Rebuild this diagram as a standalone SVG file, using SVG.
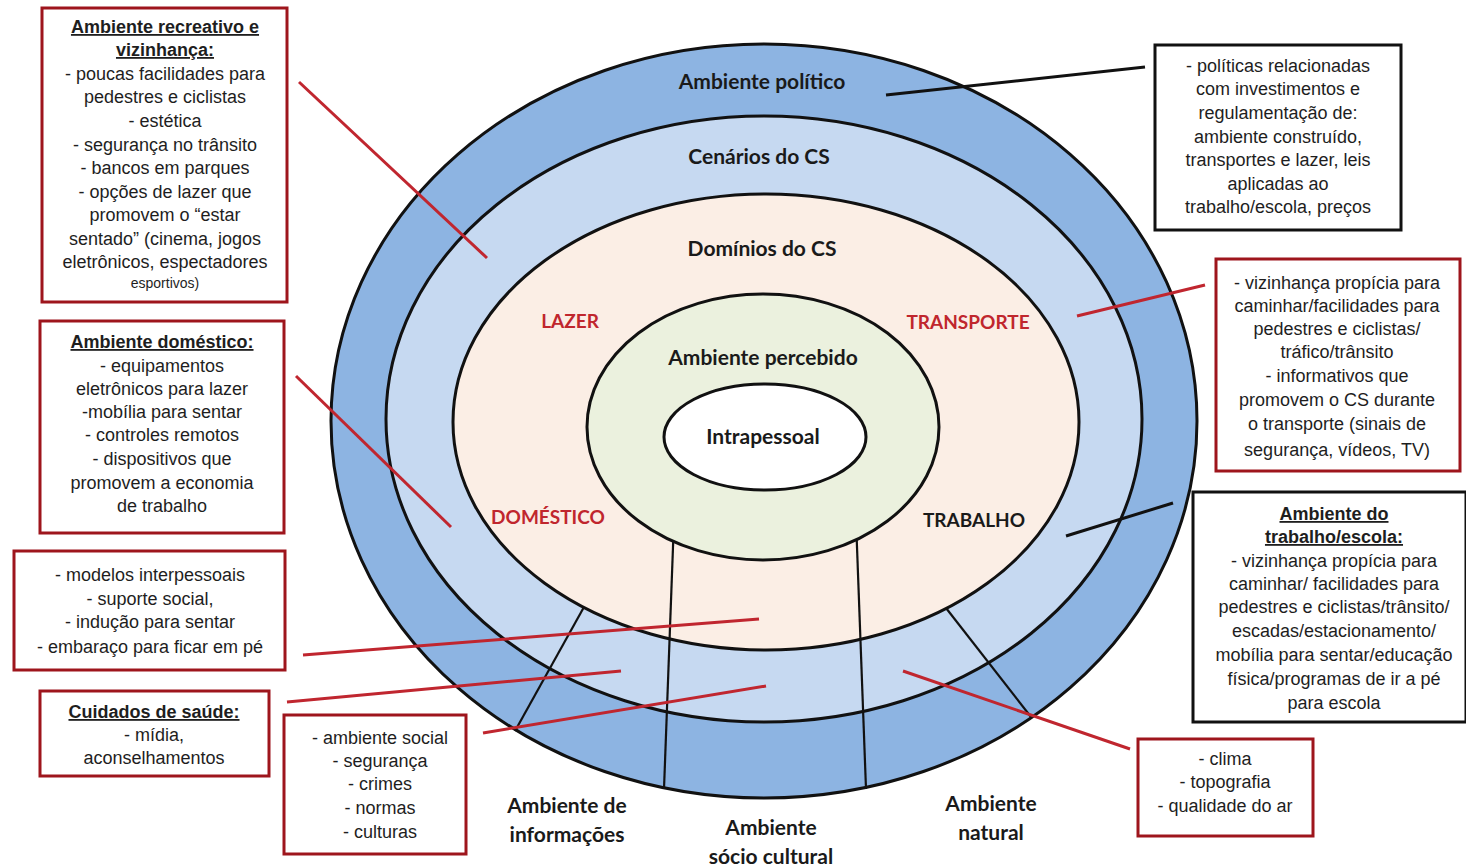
<svg xmlns="http://www.w3.org/2000/svg" width="1466" height="867" viewBox="0 0 1466 867">
<style>
.bg{fill:#ffffff}
.ring{stroke:#111;stroke-width:3}
.div{stroke:#111;stroke-width:2.2;fill:none}
.lab{font-family:Lato,"Open Sans","Liberation Sans",sans-serif;font-weight:bold;font-size:21px;fill:#1a1a1a;text-anchor:middle}
.cap{font-size:19px}
.red{fill:#C0262D}
.rbox{fill:#fff;stroke:#9E151C;stroke-width:3}
.kbox{fill:#fff;stroke:#111;stroke-width:3}
.t{font-family:"Liberation Sans",Arial,sans-serif;font-size:18px;fill:#1e1e1e;text-anchor:middle}
.h{font-weight:bold;text-decoration:underline}
.sm{font-size:14px}
.cr{stroke:#C0262F;stroke-width:3;fill:none}
.ck{stroke:#111;stroke-width:3;fill:none}
</style>
<rect class="bg" x="0" y="0" width="1466" height="867"/>

<g id="rings">
<ellipse class="ring" cx="764" cy="421" rx="433" ry="377" fill="#8DB4E2"/>
<ellipse class="ring" cx="764" cy="419" rx="378" ry="303" fill="#C6D9F1"/>
<ellipse class="ring" cx="766" cy="422" rx="313" ry="228" fill="#FBEEE5"/>
<line class="div" x1="674" y1="520" x2="664" y2="789"/>
<line class="div" x1="856" y1="520" x2="866" y2="789"/>
<line class="div" x1="584" y1="607" x2="515" y2="731"/>
<line class="div" x1="946" y1="608" x2="1031" y2="717"/>
<ellipse class="ring" cx="763" cy="427" rx="176" ry="133" fill="#EBF1DE"/>
<ellipse class="ring" cx="765" cy="437" rx="101" ry="53" fill="#ffffff"/>
</g>

<g id="ring-labels">
<text class="lab" x="762" y="89">Ambiente político</text>
<text class="lab" x="759" y="164">Cenários do CS</text>
<text class="lab" x="762" y="256">Domínios do CS</text>
<text class="lab cap red" x="570" y="328">LAZER</text>
<text class="lab cap red" x="968" y="329">TRANSPORTE</text>
<text class="lab" x="763" y="365">Ambiente percebido</text>
<text class="lab" x="763" y="444">Intrapessoal</text>
<text class="lab cap red" x="548" y="524">DOMÉSTICO</text>
<text class="lab cap" x="974" y="527">TRABALHO</text>
<text class="lab" x="567" y="813">Ambiente de</text>
<text class="lab" x="567" y="842">informações</text>
<text class="lab" x="771" y="835">Ambiente</text>
<text class="lab" x="771" y="864">sócio cultural</text>
<text class="lab" x="991" y="811">Ambiente</text>
<text class="lab" x="991" y="840">natural</text>
</g>

<g id="connectors">
<line class="cr" x1="299" y1="82" x2="487" y2="258"/>
<line class="cr" x1="296" y1="376" x2="451" y2="527"/>
<line class="cr" x1="303" y1="655" x2="759" y2="619"/>
<line class="cr" x1="287" y1="702" x2="621" y2="671"/>
<line class="cr" x1="483" y1="733" x2="766" y2="686"/>
<line class="cr" x1="903" y1="671" x2="1130" y2="749"/>
<line class="cr" x1="1077" y1="316" x2="1205" y2="285"/>
<line class="ck" x1="886" y1="95" x2="1145" y2="67"/>
<line class="ck" x1="1066" y1="536" x2="1173" y2="503"/>
</g>

<g id="box-recreativo">
<rect class="rbox" x="42" y="8" width="245" height="294"/>
<text class="t h" x="165" y="33">Ambiente recreativo e</text>
<text class="t h" x="165" y="56">vizinhança:</text>
<text class="t" x="165" y="80">- poucas facilidades para</text>
<text class="t" x="165" y="103">pedestres e ciclistas</text>
<text class="t" x="165" y="127">- estética</text>
<text class="t" x="165" y="151">- segurança no trânsito</text>
<text class="t" x="165" y="174">- bancos em parques</text>
<text class="t" x="165" y="198">- opções de lazer que</text>
<text class="t" x="165" y="221">promovem o “estar</text>
<text class="t" x="165" y="245">sentado” (cinema, jogos</text>
<text class="t" x="165" y="268">eletrônicos, espectadores</text>
<text class="t sm" x="165" y="288">esportivos)</text>
</g>

<g id="box-domestico">
<rect class="rbox" x="40" y="321" width="244" height="212"/>
<text class="t h" x="162" y="348">Ambiente doméstico:</text>
<text class="t" x="162" y="372">- equipamentos</text>
<text class="t" x="162" y="395">eletrônicos para lazer</text>
<text class="t" x="162" y="418">-mobília para sentar</text>
<text class="t" x="162" y="441">- controles remotos</text>
<text class="t" x="162" y="465">- dispositivos que</text>
<text class="t" x="162" y="489">promovem a economia</text>
<text class="t" x="162" y="512">de trabalho</text>
</g>

<g id="box-interpessoal">
<rect class="rbox" x="14" y="551" width="271" height="119"/>
<text class="t" x="150" y="581">- modelos interpessoais</text>
<text class="t" x="150" y="605">- suporte social,</text>
<text class="t" x="150" y="628">- indução para sentar</text>
<text class="t" x="150" y="653">- embaraço para ficar em pé</text>
</g>

<g id="box-saude">
<rect class="rbox" x="40" y="691" width="229" height="85"/>
<text class="t h" x="154" y="718">Cuidados de saúde:</text>
<text class="t" x="154" y="741">- mídia,</text>
<text class="t" x="154" y="764">aconselhamentos</text>
</g>

<g id="box-social">
<rect class="rbox" x="284" y="715" width="182" height="139"/>
<text class="t" x="380" y="744">- ambiente social</text>
<text class="t" x="380" y="767">- segurança</text>
<text class="t" x="380" y="790">- crimes</text>
<text class="t" x="380" y="814">- normas</text>
<text class="t" x="380" y="838">- culturas</text>
</g>

<g id="box-politico">
<rect class="kbox" x="1155" y="45" width="246" height="185"/>
<text class="t" x="1278" y="72">- políticas relacionadas</text>
<text class="t" x="1278" y="95">com investimentos e</text>
<text class="t" x="1278" y="119">regulamentação de:</text>
<text class="t" x="1278" y="143">ambiente construído,</text>
<text class="t" x="1278" y="166">transportes e lazer, leis</text>
<text class="t" x="1278" y="190">aplicadas ao</text>
<text class="t" x="1278" y="213">trabalho/escola, preços</text>
</g>

<g id="box-transporte">
<rect class="rbox" x="1216" y="259" width="244" height="212"/>
<text class="t" x="1337" y="289">- vizinhança propícia para</text>
<text class="t" x="1337" y="312">caminhar/facilidades para</text>
<text class="t" x="1337" y="335">pedestres e ciclistas/</text>
<text class="t" x="1337" y="358">tráfico/trânsito</text>
<text class="t" x="1337" y="382">- informativos que</text>
<text class="t" x="1337" y="406">promovem o CS durante</text>
<text class="t" x="1337" y="430">o transporte (sinais de</text>
<text class="t" x="1337" y="456">segurança, vídeos, TV)</text>
</g>

<g id="box-trabalho">
<rect class="kbox" x="1193" y="492" width="273" height="230"/>
<text class="t h" x="1334" y="520">Ambiente do</text>
<text class="t h" x="1334" y="543">trabalho/escola:</text>
<text class="t" x="1334" y="567">- vizinhança propícia para</text>
<text class="t" x="1334" y="590">caminhar/ facilidades para</text>
<text class="t" x="1334" y="613">pedestres e ciclistas/trânsito/</text>
<text class="t" x="1334" y="637">escadas/estacionamento/</text>
<text class="t" x="1334" y="661">mobília para sentar/educação</text>
<text class="t" x="1334" y="685">física/programas de ir a pé</text>
<text class="t" x="1334" y="709">para escola</text>
</g>

<g id="box-natural">
<rect class="rbox" x="1138" y="739" width="175" height="97"/>
<text class="t" x="1225" y="765">- clima</text>
<text class="t" x="1225" y="788">- topografia</text>
<text class="t" x="1225" y="812">- qualidade do ar</text>
</g>
</svg>
